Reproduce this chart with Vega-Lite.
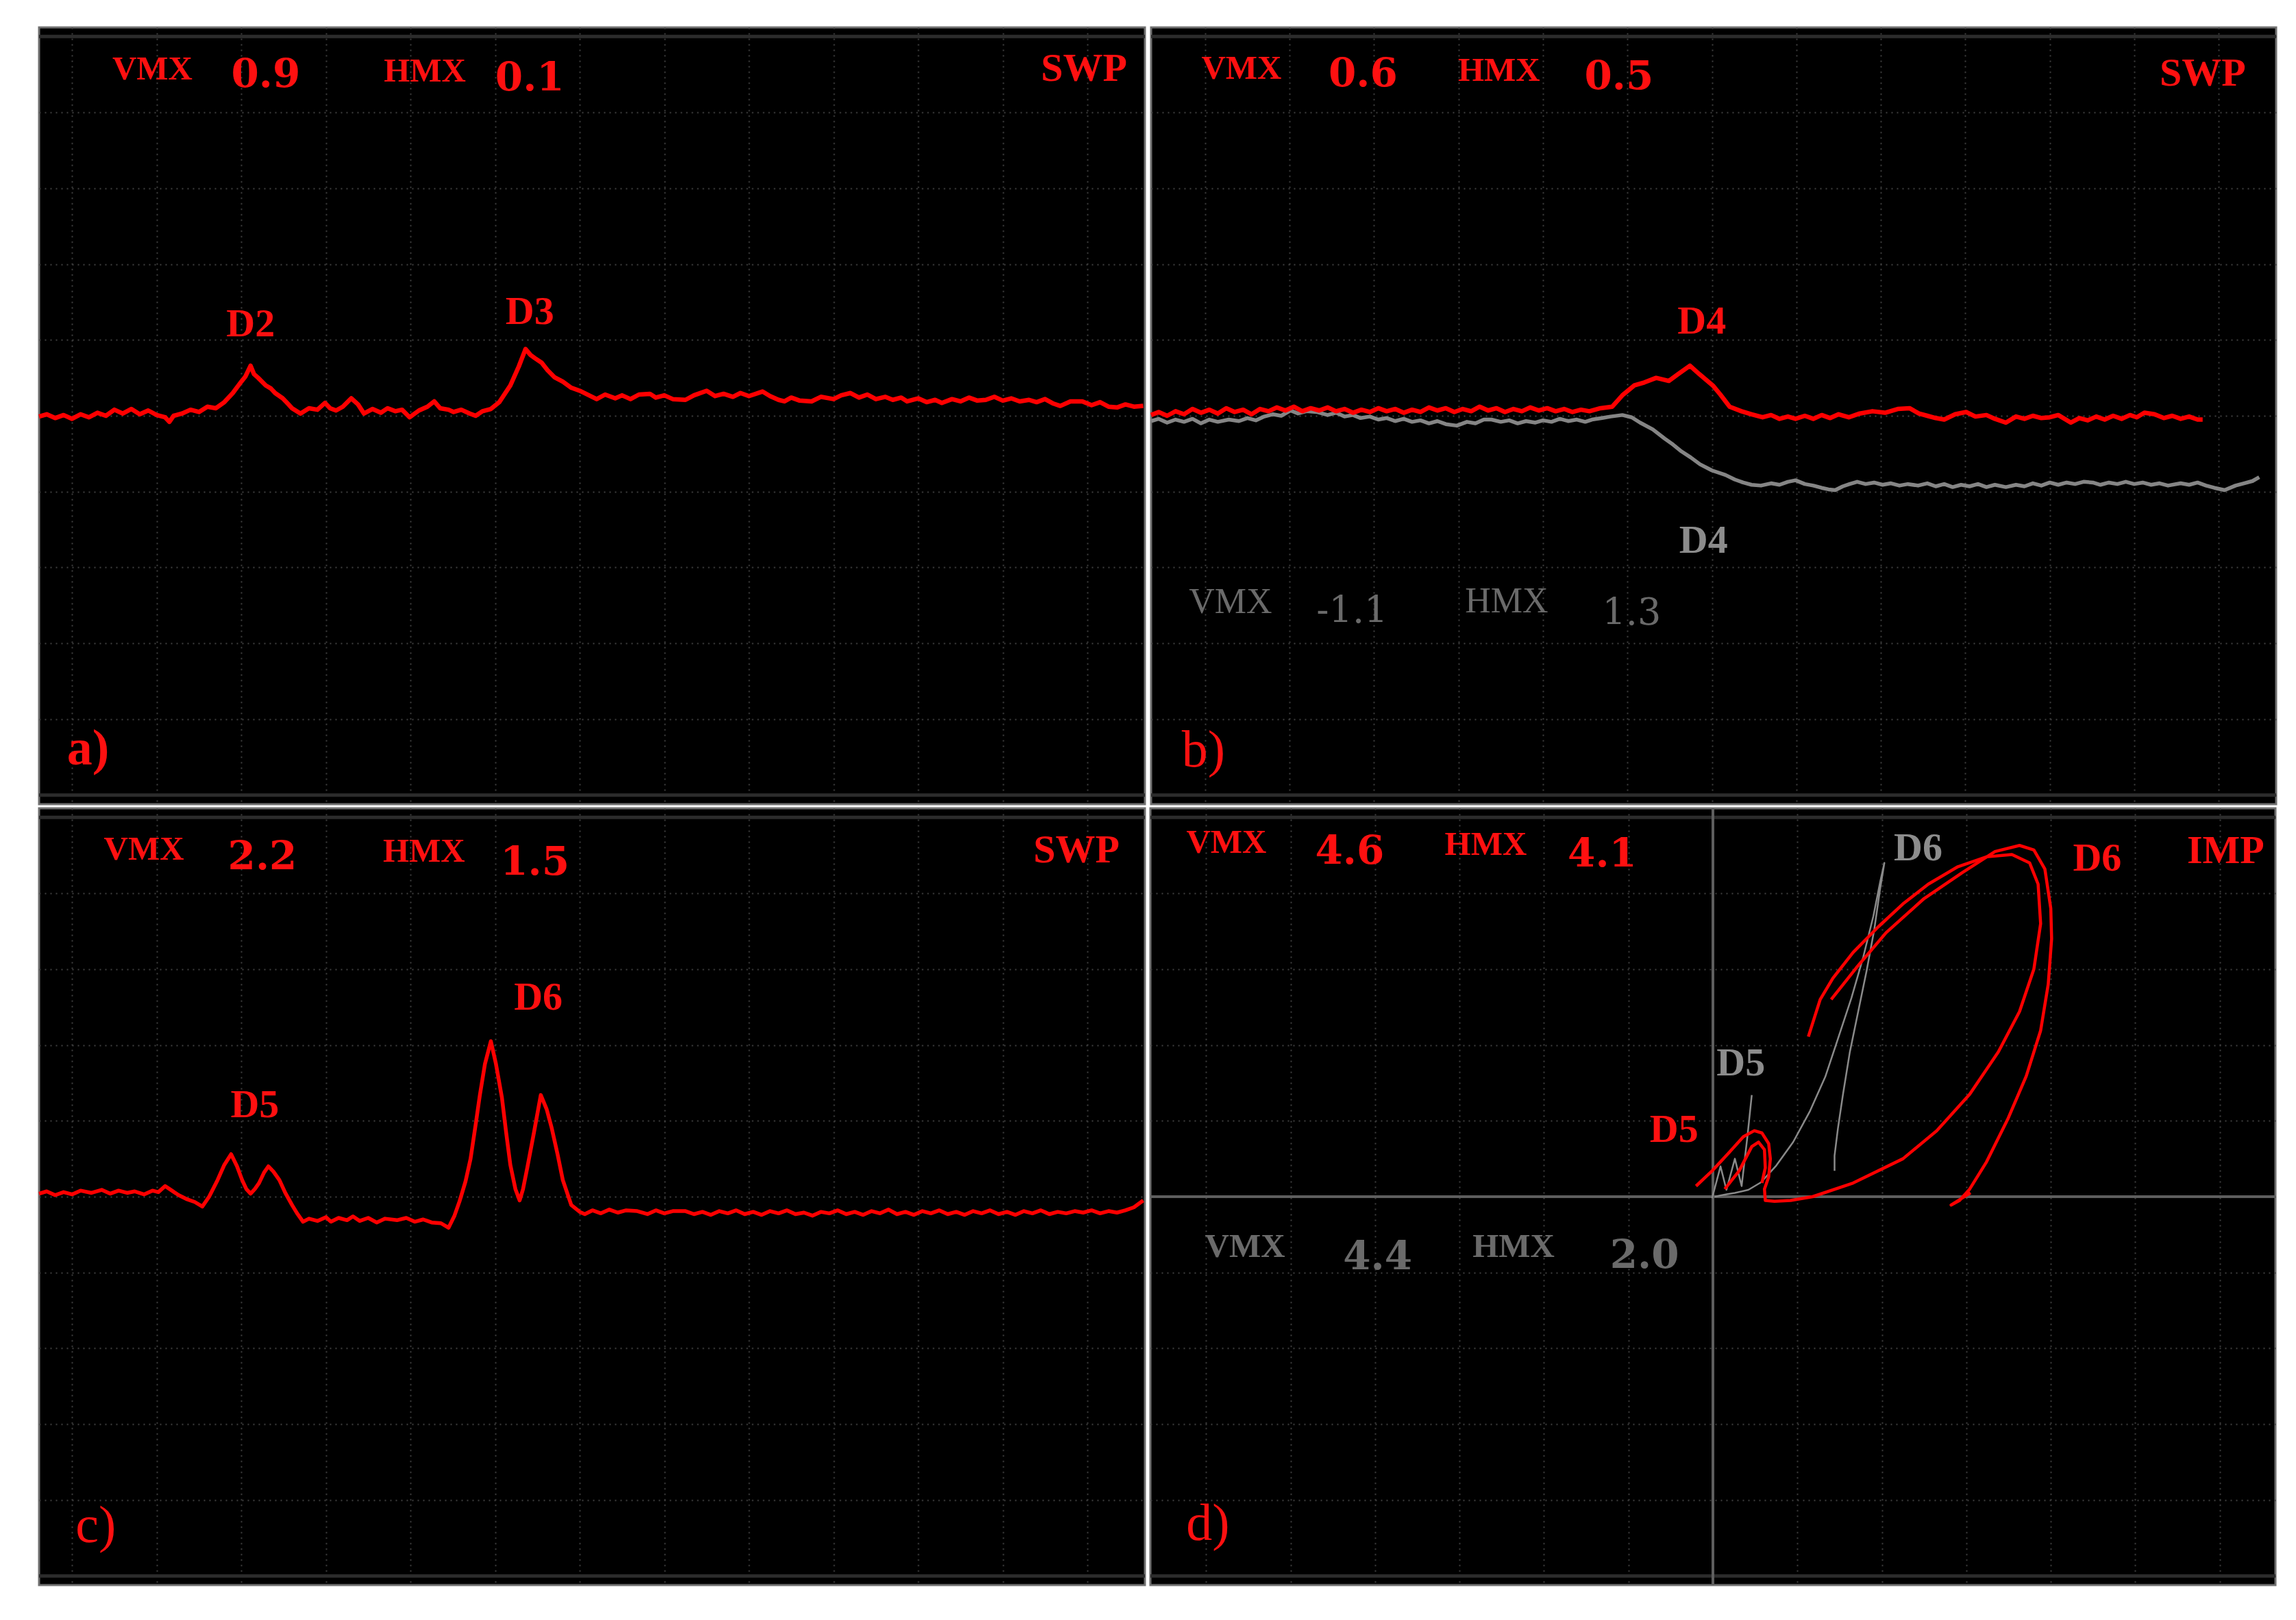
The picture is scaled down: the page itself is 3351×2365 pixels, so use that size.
{
"$schema":"https://vega.github.io/schema/vega-lite/v6.json",
"background":"#ffffff",
"padding":{"left":52,"top":38,"right":0,"bottom":0},
"config":{
 "view":{"fill":"#000000","stroke":"#707070","strokeWidth":3},
 "axis":{"grid":true,"labels":false,"ticks":false,"domain":false,"gridColor":"#404040","gridDash":[2,6],"gridWidth":2,"minExtent":0,"maxExtent":0,"titlePadding":0},
 "text":{"font":"Liberation Serif"}
},
"datasets":{
"labels":[
{"p":"a","k":"param","txt":"VMX","t":0.95,"v":9.57,"c":"red"},
{"p":"a","k":"value","txt":"0.9","t":2.29,"v":9.49,"c":"red"},
{"p":"a","k":"param","txt":"HMX","t":4.17,"v":9.54,"c":"red"},
{"p":"a","k":"value","txt":"0.1","t":5.41,"v":9.44,"c":"red"},
{"p":"a","k":"mode","txt":"SWP","t":11.96,"v":9.57,"c":"red"},
{"p":"a","k":"peak","txt":"D2","t":2.11,"v":6.20,"c":"red"},
{"p":"a","k":"peak","txt":"D3","t":5.41,"v":6.36,"c":"red"},
{"p":"a","k":"tag","txt":"a)","t":0.19,"v":0.60,"c":"red"},
{"p":"b","k":"param","txt":"VMX","t":0.43,"v":9.58,"c":"red"},
{"p":"b","k":"value","txt":"0.6","t":1.87,"v":9.50,"c":"red"},
{"p":"b","k":"param","txt":"HMX","t":3.48,"v":9.55,"c":"red"},
{"p":"b","k":"value","txt":"0.5","t":4.90,"v":9.46,"c":"red"},
{"p":"b","k":"mode","txt":"SWP","t":11.81,"v":9.51,"c":"red"},
{"p":"b","k":"peak","txt":"D4","t":5.88,"v":6.24,"c":"red"},
{"p":"b","k":"peak","txt":"D4","t":5.90,"v":3.35,"c":"gray"},
{"p":"b","k":"param2","txt":"VMX","t":0.30,"v":2.54,"c":"dim"},
{"p":"b","k":"value2","txt":"-1.1","t":1.74,"v":2.42,"c":"dim"},
{"p":"b","k":"param2","txt":"HMX","t":3.57,"v":2.55,"c":"dim"},
{"p":"b","k":"value2","txt":"1.3","t":5.05,"v":2.39,"c":"dim"},
{"p":"b","k":"tag","txt":"b)","t":-0.02,"v":0.58,"c":"red"},
{"p":"c","k":"param","txt":"VMX","t":0.85,"v":9.58,"c":"red"},
{"p":"c","k":"value","txt":"2.2","t":2.25,"v":9.47,"c":"red"},
{"p":"c","k":"param","txt":"HMX","t":4.16,"v":9.55,"c":"red"},
{"p":"c","k":"value","txt":"1.5","t":5.47,"v":9.40,"c":"red"},
{"p":"c","k":"mode","txt":"SWP","t":11.87,"v":9.56,"c":"red"},
{"p":"c","k":"peak","txt":"D5","t":2.16,"v":6.20,"c":"red"},
{"p":"c","k":"peak","txt":"D6","t":5.51,"v":7.62,"c":"red"},
{"p":"c","k":"tag","txt":"c)","t":0.28,"v":0.66,"c":"red"},
{"p":"d","k":"param","txt":"VMX","t":-5.76,"v":4.67,"c":"red"},
{"p":"d","k":"value","txt":"4.6","t":-4.30,"v":4.54,"c":"red"},
{"p":"d","k":"param","txt":"HMX","t":-2.69,"v":4.64,"c":"red"},
{"p":"d","k":"value","txt":"4.1","t":-1.31,"v":4.51,"c":"red"},
{"p":"d","k":"peak","txt":"D6","t":2.43,"v":4.59,"c":"gray"},
{"p":"d","k":"peak","txt":"D6","t":4.55,"v":4.45,"c":"red"},
{"p":"d","k":"mode","txt":"IMP","t":6.07,"v":4.55,"c":"red"},
{"p":"d","k":"peak","txt":"D5","t":0.33,"v":1.75,"c":"gray"},
{"p":"d","k":"peak","txt":"D5","t":-0.46,"v":0.88,"c":"red"},
{"p":"d","k":"param","txt":"VMX","t":-5.54,"v":-0.66,"c":"dim"},
{"p":"d","k":"value","txt":"4.4","t":-3.97,"v":-0.80,"c":"dim"},
{"p":"d","k":"param","txt":"HMX","t":-2.36,"v":-0.66,"c":"dim"},
{"p":"d","k":"value","txt":"2.0","t":-0.81,"v":-0.79,"c":"dim"},
{"p":"d","k":"tag","txt":"d)","t":-5.98,"v":-4.32,"c":"red"}
],
"traceA":[
{"t":-0.39,"v":4.99},{"t":-0.3,"v":5.02},{"t":-0.2,"v":4.97},{"t":-0.1,"v":5.01},{"t":0.0,"v":4.96},{"t":0.1,"v":5.02},{"t":0.2,"v":4.98},{"t":0.3,"v":5.04},{"t":0.4,"v":5.0},{"t":0.5,"v":5.08},{"t":0.6,"v":5.03},{"t":0.7,"v":5.09},{"t":0.8,"v":5.02},{"t":0.9,"v":5.07},{"t":1.0,"v":5.01},{"t":1.1,"v":4.98},{"t":1.15,"v":4.92},{"t":1.2,"v":5.0},{"t":1.3,"v":5.03},{"t":1.4,"v":5.08},{"t":1.5,"v":5.05},{"t":1.6,"v":5.12},{"t":1.7,"v":5.1},{"t":1.8,"v":5.18},{"t":1.9,"v":5.3},{"t":2.0,"v":5.45},{"t":2.05,"v":5.52},{"t":2.11,"v":5.66},{"t":2.15,"v":5.55},{"t":2.2,"v":5.5},{"t":2.29,"v":5.4},{"t":2.35,"v":5.36},{"t":2.4,"v":5.3},{"t":2.49,"v":5.23},{"t":2.55,"v":5.16},{"t":2.6,"v":5.1},{"t":2.7,"v":5.03},{"t":2.8,"v":5.1},{"t":2.9,"v":5.08},{"t":2.99,"v":5.17},{"t":3.05,"v":5.1},{"t":3.12,"v":5.07},{"t":3.2,"v":5.12},{"t":3.3,"v":5.23},{"t":3.38,"v":5.15},{"t":3.45,"v":5.03},{"t":3.55,"v":5.09},{"t":3.65,"v":5.04},{"t":3.73,"v":5.1},{"t":3.82,"v":5.06},{"t":3.9,"v":5.08},{"t":3.99,"v":4.98},{"t":4.1,"v":5.07},{"t":4.2,"v":5.12},{"t":4.28,"v":5.19},{"t":4.35,"v":5.1},{"t":4.45,"v":5.08},{"t":4.51,"v":5.05},{"t":4.6,"v":5.08},{"t":4.7,"v":5.03},{"t":4.77,"v":5.0},{"t":4.85,"v":5.06},{"t":4.95,"v":5.09},{"t":5.05,"v":5.18},{"t":5.18,"v":5.4},{"t":5.28,"v":5.65},{"t":5.36,"v":5.88},{"t":5.42,"v":5.8},{"t":5.47,"v":5.76},{"t":5.55,"v":5.7},{"t":5.62,"v":5.6},{"t":5.7,"v":5.51},{"t":5.8,"v":5.45},{"t":5.9,"v":5.37},{"t":6.0,"v":5.33},{"t":6.11,"v":5.27},{"t":6.2,"v":5.22},{"t":6.3,"v":5.28},{"t":6.42,"v":5.23},{"t":6.5,"v":5.27},{"t":6.6,"v":5.22},{"t":6.7,"v":5.28},{"t":6.83,"v":5.29},{"t":6.9,"v":5.24},{"t":7.0,"v":5.27},{"t":7.1,"v":5.22},{"t":7.25,"v":5.21},{"t":7.35,"v":5.27},{"t":7.5,"v":5.33},{"t":7.6,"v":5.26},{"t":7.7,"v":5.29},{"t":7.81,"v":5.25},{"t":7.9,"v":5.3},{"t":8.0,"v":5.26},{"t":8.16,"v":5.32},{"t":8.25,"v":5.26},{"t":8.35,"v":5.21},{"t":8.42,"v":5.19},{"t":8.5,"v":5.24},{"t":8.6,"v":5.2},{"t":8.74,"v":5.19},{"t":8.85,"v":5.25},{"t":9.0,"v":5.22},{"t":9.09,"v":5.27},{"t":9.2,"v":5.3},{"t":9.3,"v":5.24},{"t":9.4,"v":5.28},{"t":9.5,"v":5.22},{"t":9.61,"v":5.25},{"t":9.7,"v":5.21},{"t":9.8,"v":5.24},{"t":9.87,"v":5.19},{"t":10.0,"v":5.23},{"t":10.1,"v":5.18},{"t":10.2,"v":5.21},{"t":10.28,"v":5.17},{"t":10.4,"v":5.22},{"t":10.5,"v":5.19},{"t":10.6,"v":5.24},{"t":10.7,"v":5.2},{"t":10.8,"v":5.21},{"t":10.9,"v":5.25},{"t":11.0,"v":5.2},{"t":11.1,"v":5.23},{"t":11.2,"v":5.19},{"t":11.31,"v":5.21},{"t":11.4,"v":5.18},{"t":11.5,"v":5.22},{"t":11.6,"v":5.16},{"t":11.68,"v":5.13},{"t":11.8,"v":5.19},{"t":11.94,"v":5.19},{"t":12.05,"v":5.14},{"t":12.15,"v":5.18},{"t":12.25,"v":5.12},{"t":12.35,"v":5.11},{"t":12.45,"v":5.15},{"t":12.55,"v":5.12},{"t":12.66,"v":5.13}
],
"traceB":[
{"c":"red","t":-0.64,"v":5.01},{"c":"red","t":-0.55,"v":5.05},{"c":"red","t":-0.45,"v":5.0},{"c":"red","t":-0.35,"v":5.06},{"c":"red","t":-0.25,"v":5.02},{"c":"red","t":-0.15,"v":5.09},{"c":"red","t":-0.05,"v":5.04},{"c":"red","t":0.05,"v":5.08},{"c":"red","t":0.15,"v":5.03},{"c":"red","t":0.25,"v":5.1},{"c":"red","t":0.35,"v":5.05},{"c":"red","t":0.45,"v":5.08},{"c":"red","t":0.55,"v":5.02},{"c":"red","t":0.65,"v":5.09},{"c":"red","t":0.75,"v":5.06},{"c":"red","t":0.85,"v":5.11},{"c":"red","t":0.95,"v":5.07},{"c":"red","t":1.05,"v":5.12},{"c":"red","t":1.15,"v":5.06},{"c":"red","t":1.25,"v":5.1},{"c":"red","t":1.35,"v":5.07},{"c":"red","t":1.45,"v":5.11},{"c":"red","t":1.55,"v":5.06},{"c":"red","t":1.65,"v":5.09},{"c":"red","t":1.75,"v":5.04},{"c":"red","t":1.85,"v":5.08},{"c":"red","t":1.95,"v":5.05},{"c":"red","t":2.05,"v":5.1},{"c":"red","t":2.15,"v":5.06},{"c":"red","t":2.25,"v":5.09},{"c":"red","t":2.35,"v":5.04},{"c":"red","t":2.45,"v":5.08},{"c":"red","t":2.55,"v":5.05},{"c":"red","t":2.65,"v":5.11},{"c":"red","t":2.75,"v":5.07},{"c":"red","t":2.85,"v":5.1},{"c":"red","t":2.95,"v":5.05},{"c":"red","t":3.05,"v":5.09},{"c":"red","t":3.15,"v":5.06},{"c":"red","t":3.25,"v":5.12},{"c":"red","t":3.35,"v":5.07},{"c":"red","t":3.45,"v":5.1},{"c":"red","t":3.55,"v":5.05},{"c":"red","t":3.65,"v":5.09},{"c":"red","t":3.75,"v":5.06},{"c":"red","t":3.85,"v":5.11},{"c":"red","t":3.95,"v":5.07},{"c":"red","t":4.05,"v":5.1},{"c":"red","t":4.15,"v":5.06},{"c":"red","t":4.25,"v":5.09},{"c":"red","t":4.35,"v":5.05},{"c":"red","t":4.45,"v":5.08},{"c":"red","t":4.55,"v":5.06},{"c":"red","t":4.68,"v":5.1},{"c":"red","t":4.82,"v":5.12},{"c":"red","t":4.94,"v":5.27},{"c":"red","t":5.08,"v":5.4},{"c":"red","t":5.2,"v":5.44},{"c":"red","t":5.34,"v":5.5},{"c":"red","t":5.49,"v":5.46},{"c":"red","t":5.6,"v":5.55},{"c":"red","t":5.74,"v":5.66},{"c":"red","t":5.85,"v":5.55},{"c":"red","t":6.01,"v":5.4},{"c":"red","t":6.1,"v":5.28},{"c":"red","t":6.21,"v":5.12},{"c":"red","t":6.35,"v":5.06},{"c":"red","t":6.47,"v":5.02},{"c":"red","t":6.6,"v":4.98},{"c":"red","t":6.7,"v":5.01},{"c":"red","t":6.8,"v":4.96},{"c":"red","t":6.9,"v":4.99},{"c":"red","t":6.99,"v":4.96},{"c":"red","t":7.1,"v":5.0},{"c":"red","t":7.2,"v":4.96},{"c":"red","t":7.3,"v":5.01},{"c":"red","t":7.4,"v":4.97},{"c":"red","t":7.5,"v":5.02},{"c":"red","t":7.62,"v":4.98},{"c":"red","t":7.75,"v":5.03},{"c":"red","t":7.9,"v":5.06},{"c":"red","t":8.05,"v":5.04},{"c":"red","t":8.2,"v":5.09},{"c":"red","t":8.34,"v":5.1},{"c":"red","t":8.45,"v":5.03},{"c":"red","t":8.55,"v":5.0},{"c":"red","t":8.65,"v":4.97},{"c":"red","t":8.75,"v":4.95},{"c":"red","t":8.88,"v":5.02},{"c":"red","t":9.01,"v":5.05},{"c":"red","t":9.12,"v":4.99},{"c":"red","t":9.25,"v":5.01},{"c":"red","t":9.35,"v":4.96},{"c":"red","t":9.48,"v":4.91},{"c":"red","t":9.6,"v":4.99},{"c":"red","t":9.7,"v":4.96},{"c":"red","t":9.8,"v":5.0},{"c":"red","t":9.9,"v":4.97},{"c":"red","t":10.0,"v":4.98},{"c":"red","t":10.1,"v":5.01},{"c":"red","t":10.25,"v":4.91},{"c":"red","t":10.35,"v":4.97},{"c":"red","t":10.45,"v":4.94},{"c":"red","t":10.55,"v":4.99},{"c":"red","t":10.65,"v":4.95},{"c":"red","t":10.75,"v":5.0},{"c":"red","t":10.85,"v":4.96},{"c":"red","t":10.95,"v":5.01},{"c":"red","t":11.03,"v":4.98},{"c":"red","t":11.12,"v":5.04},{"c":"red","t":11.24,"v":5.02},{"c":"red","t":11.35,"v":4.97},{"c":"red","t":11.45,"v":5.0},{"c":"red","t":11.55,"v":4.96},{"c":"red","t":11.65,"v":4.99},{"c":"red","t":11.75,"v":4.95},{"c":"red","t":11.81,"v":4.95},
{"c":"gray","t":-0.64,"v":4.93},{"c":"gray","t":-0.55,"v":4.96},{"c":"gray","t":-0.45,"v":4.91},{"c":"gray","t":-0.35,"v":4.95},{"c":"gray","t":-0.25,"v":4.92},{"c":"gray","t":-0.15,"v":4.96},{"c":"gray","t":-0.05,"v":4.9},{"c":"gray","t":0.05,"v":4.95},{"c":"gray","t":0.15,"v":4.92},{"c":"gray","t":0.28,"v":4.95},{"c":"gray","t":0.4,"v":4.93},{"c":"gray","t":0.5,"v":4.97},{"c":"gray","t":0.6,"v":4.94},{"c":"gray","t":0.7,"v":4.99},{"c":"gray","t":0.8,"v":5.02},{"c":"gray","t":0.9,"v":5.0},{"c":"gray","t":1.01,"v":5.07},{"c":"gray","t":1.1,"v":5.03},{"c":"gray","t":1.2,"v":5.06},{"c":"gray","t":1.32,"v":5.05},{"c":"gray","t":1.45,"v":5.01},{"c":"gray","t":1.55,"v":5.04},{"c":"gray","t":1.65,"v":4.99},{"c":"gray","t":1.75,"v":5.01},{"c":"gray","t":1.84,"v":4.97},{"c":"gray","t":1.95,"v":4.99},{"c":"gray","t":2.05,"v":4.95},{"c":"gray","t":2.15,"v":4.97},{"c":"gray","t":2.25,"v":4.93},{"c":"gray","t":2.35,"v":4.96},{"c":"gray","t":2.45,"v":4.92},{"c":"gray","t":2.55,"v":4.94},{"c":"gray","t":2.65,"v":4.9},{"c":"gray","t":2.75,"v":4.93},{"c":"gray","t":2.85,"v":4.89},{"c":"gray","t":2.98,"v":4.87},{"c":"gray","t":3.1,"v":4.92},{"c":"gray","t":3.2,"v":4.9},{"c":"gray","t":3.3,"v":4.95},{"c":"gray","t":3.39,"v":4.95},{"c":"gray","t":3.5,"v":4.92},{"c":"gray","t":3.6,"v":4.94},{"c":"gray","t":3.7,"v":4.9},{"c":"gray","t":3.8,"v":4.93},{"c":"gray","t":3.91,"v":4.91},{"c":"gray","t":4.0,"v":4.94},{"c":"gray","t":4.1,"v":4.92},{"c":"gray","t":4.2,"v":4.96},{"c":"gray","t":4.3,"v":4.93},{"c":"gray","t":4.4,"v":4.95},{"c":"gray","t":4.5,"v":4.92},{"c":"gray","t":4.58,"v":4.95},{"c":"gray","t":4.7,"v":4.97},{"c":"gray","t":4.8,"v":4.99},{"c":"gray","t":4.94,"v":5.01},{"c":"gray","t":5.05,"v":4.98},{"c":"gray","t":5.15,"v":4.91},{"c":"gray","t":5.3,"v":4.82},{"c":"gray","t":5.44,"v":4.7},{"c":"gray","t":5.54,"v":4.62},{"c":"gray","t":5.64,"v":4.53},{"c":"gray","t":5.75,"v":4.45},{"c":"gray","t":5.86,"v":4.36},{"c":"gray","t":6.0,"v":4.28},{"c":"gray","t":6.16,"v":4.22},{"c":"gray","t":6.27,"v":4.16},{"c":"gray","t":6.37,"v":4.12},{"c":"gray","t":6.47,"v":4.09},{"c":"gray","t":6.58,"v":4.08},{"c":"gray","t":6.7,"v":4.11},{"c":"gray","t":6.8,"v":4.09},{"c":"gray","t":6.9,"v":4.13},{"c":"gray","t":6.99,"v":4.15},{"c":"gray","t":7.1,"v":4.1},{"c":"gray","t":7.2,"v":4.08},{"c":"gray","t":7.3,"v":4.05},{"c":"gray","t":7.38,"v":4.03},{"c":"gray","t":7.46,"v":4.02},{"c":"gray","t":7.55,"v":4.07},{"c":"gray","t":7.63,"v":4.1},{"c":"gray","t":7.72,"v":4.13},{"c":"gray","t":7.82,"v":4.1},{"c":"gray","t":7.92,"v":4.12},{"c":"gray","t":8.02,"v":4.09},{"c":"gray","t":8.12,"v":4.11},{"c":"gray","t":8.22,"v":4.08},{"c":"gray","t":8.32,"v":4.1},{"c":"gray","t":8.44,"v":4.08},{"c":"gray","t":8.55,"v":4.11},{"c":"gray","t":8.65,"v":4.07},{"c":"gray","t":8.75,"v":4.1},{"c":"gray","t":8.85,"v":4.06},{"c":"gray","t":8.95,"v":4.09},{"c":"gray","t":9.05,"v":4.07},{"c":"gray","t":9.15,"v":4.1},{"c":"gray","t":9.25,"v":4.06},{"c":"gray","t":9.35,"v":4.09},{"c":"gray","t":9.48,"v":4.06},{"c":"gray","t":9.6,"v":4.09},{"c":"gray","t":9.7,"v":4.07},{"c":"gray","t":9.8,"v":4.11},{"c":"gray","t":9.9,"v":4.08},{"c":"gray","t":10.0,"v":4.12},{"c":"gray","t":10.1,"v":4.09},{"c":"gray","t":10.2,"v":4.12},{"c":"gray","t":10.3,"v":4.1},{"c":"gray","t":10.4,"v":4.13},{"c":"gray","t":10.51,"v":4.12},{"c":"gray","t":10.6,"v":4.09},{"c":"gray","t":10.7,"v":4.12},{"c":"gray","t":10.8,"v":4.1},{"c":"gray","t":10.9,"v":4.13},{"c":"gray","t":11.0,"v":4.1},{"c":"gray","t":11.1,"v":4.12},{"c":"gray","t":11.2,"v":4.09},{"c":"gray","t":11.3,"v":4.11},{"c":"gray","t":11.4,"v":4.08},{"c":"gray","t":11.55,"v":4.11},{"c":"gray","t":11.65,"v":4.09},{"c":"gray","t":11.75,"v":4.12},{"c":"gray","t":11.85,"v":4.08},{"c":"gray","t":11.95,"v":4.05},{"c":"gray","t":12.07,"v":4.02},{"c":"gray","t":12.2,"v":4.08},{"c":"gray","t":12.3,"v":4.11},{"c":"gray","t":12.4,"v":4.14},{"c":"gray","t":12.48,"v":4.19}
],
"traceC":[
{"t":-0.39,"v":5.04},{"t":-0.3,"v":5.07},{"t":-0.2,"v":5.02},{"t":-0.1,"v":5.06},{"t":0.0,"v":5.03},{"t":0.1,"v":5.08},{"t":0.23,"v":5.05},{"t":0.35,"v":5.09},{"t":0.45,"v":5.04},{"t":0.55,"v":5.08},{"t":0.65,"v":5.05},{"t":0.74,"v":5.07},{"t":0.85,"v":5.03},{"t":0.95,"v":5.08},{"t":1.02,"v":5.06},{"t":1.1,"v":5.14},{"t":1.18,"v":5.08},{"t":1.26,"v":5.02},{"t":1.35,"v":4.97},{"t":1.45,"v":4.93},{"t":1.54,"v":4.87},{"t":1.62,"v":5.0},{"t":1.72,"v":5.22},{"t":1.8,"v":5.42},{"t":1.88,"v":5.56},{"t":1.95,"v":5.4},{"t":2.01,"v":5.22},{"t":2.06,"v":5.1},{"t":2.11,"v":5.04},{"t":2.16,"v":5.1},{"t":2.21,"v":5.18},{"t":2.27,"v":5.32},{"t":2.32,"v":5.4},{"t":2.38,"v":5.33},{"t":2.45,"v":5.22},{"t":2.52,"v":5.05},{"t":2.6,"v":4.89},{"t":2.66,"v":4.78},{"t":2.73,"v":4.67},{"t":2.8,"v":4.71},{"t":2.9,"v":4.68},{"t":3.0,"v":4.73},{"t":3.06,"v":4.67},{"t":3.15,"v":4.72},{"t":3.25,"v":4.69},{"t":3.32,"v":4.74},{"t":3.4,"v":4.68},{"t":3.5,"v":4.72},{"t":3.6,"v":4.66},{"t":3.7,"v":4.71},{"t":3.84,"v":4.69},{"t":3.95,"v":4.72},{"t":4.05,"v":4.67},{"t":4.15,"v":4.7},{"t":4.25,"v":4.66},{"t":4.36,"v":4.65},{"t":4.45,"v":4.59},{"t":4.52,"v":4.75},{"t":4.58,"v":4.94},{"t":4.65,"v":5.2},{"t":4.71,"v":5.5},{"t":4.77,"v":5.95},{"t":4.82,"v":6.34},{"t":4.88,"v":6.75},{"t":4.95,"v":7.05},{"t":5.01,"v":6.75},{"t":5.08,"v":6.31},{"t":5.13,"v":5.85},{"t":5.18,"v":5.42},{"t":5.24,"v":5.1},{"t":5.29,"v":4.95},{"t":5.33,"v":5.1},{"t":5.38,"v":5.38},{"t":5.46,"v":5.85},{"t":5.54,"v":6.34},{"t":5.61,"v":6.15},{"t":5.67,"v":5.9},{"t":5.74,"v":5.55},{"t":5.8,"v":5.22},{"t":5.9,"v":4.89},{"t":6.0,"v":4.8},{"t":6.06,"v":4.77},{"t":6.15,"v":4.82},{"t":6.25,"v":4.78},{"t":6.35,"v":4.83},{"t":6.45,"v":4.79},{"t":6.55,"v":4.82},{"t":6.68,"v":4.81},{"t":6.8,"v":4.77},{"t":6.9,"v":4.82},{"t":7.0,"v":4.78},{"t":7.1,"v":4.81},{"t":7.25,"v":4.81},{"t":7.35,"v":4.77},{"t":7.45,"v":4.8},{"t":7.55,"v":4.76},{"t":7.65,"v":4.81},{"t":7.75,"v":4.78},{"t":7.85,"v":4.82},{"t":7.95,"v":4.77},{"t":8.05,"v":4.8},{"t":8.15,"v":4.76},{"t":8.25,"v":4.81},{"t":8.35,"v":4.78},{"t":8.45,"v":4.82},{"t":8.55,"v":4.77},{"t":8.65,"v":4.79},{"t":8.75,"v":4.75},{"t":8.85,"v":4.8},{"t":8.95,"v":4.78},{"t":9.05,"v":4.82},{"t":9.15,"v":4.77},{"t":9.25,"v":4.8},{"t":9.35,"v":4.76},{"t":9.45,"v":4.81},{"t":9.55,"v":4.78},{"t":9.65,"v":4.83},{"t":9.75,"v":4.77},{"t":9.85,"v":4.8},{"t":9.95,"v":4.76},{"t":10.05,"v":4.81},{"t":10.15,"v":4.78},{"t":10.25,"v":4.82},{"t":10.35,"v":4.77},{"t":10.45,"v":4.8},{"t":10.55,"v":4.76},{"t":10.65,"v":4.81},{"t":10.75,"v":4.78},{"t":10.85,"v":4.82},{"t":10.95,"v":4.77},{"t":11.05,"v":4.8},{"t":11.15,"v":4.76},{"t":11.25,"v":4.81},{"t":11.35,"v":4.78},{"t":11.45,"v":4.82},{"t":11.55,"v":4.77},{"t":11.65,"v":4.8},{"t":11.75,"v":4.78},{"t":11.85,"v":4.81},{"t":11.95,"v":4.79},{"t":12.05,"v":4.82},{"t":12.15,"v":4.78},{"t":12.25,"v":4.81},{"t":12.35,"v":4.79},{"t":12.45,"v":4.82},{"t":12.55,"v":4.86},{"t":12.66,"v":4.95}
],
"traceD":[
{"p":"r1","i":0,"t":-0.2,"v":0.14,"c":"red"},{"p":"r1","i":1,"t":-0.01,"v":0.34,"c":"red"},{"p":"r1","i":2,"t":0.19,"v":0.58,"c":"red"},{"p":"r1","i":3,"t":0.36,"v":0.79,"c":"red"},{"p":"r1","i":4,"t":0.49,"v":0.87,"c":"red"},{"p":"r1","i":5,"t":0.58,"v":0.84,"c":"red"},{"p":"r1","i":6,"t":0.66,"v":0.7,"c":"red"},{"p":"r1","i":7,"t":0.68,"v":0.5,"c":"red"},{"p":"r1","i":8,"t":0.66,"v":0.26,"c":"red"},{"p":"r1","i":9,"t":0.61,"v":0.1,"c":"red"},{"p":"r1","i":10,"t":0.62,"v":-0.05,"c":"red"},{"p":"r1","i":11,"t":0.73,"v":-0.06,"c":"red"},{"p":"r1","i":12,"t":0.92,"v":-0.05,"c":"red"},{"p":"r1","i":13,"t":1.18,"v":0.0,"c":"red"},{"p":"r1","i":14,"t":1.66,"v":0.18,"c":"red"},{"p":"r1","i":15,"t":2.25,"v":0.5,"c":"red"},{"p":"r1","i":16,"t":2.65,"v":0.87,"c":"red"},{"p":"r1","i":17,"t":3.04,"v":1.35,"c":"red"},{"p":"r1","i":18,"t":3.38,"v":1.91,"c":"red"},{"p":"r1","i":19,"t":3.63,"v":2.44,"c":"red"},{"p":"r1","i":20,"t":3.8,"v":3.0,"c":"red"},{"p":"r1","i":21,"t":3.88,"v":3.6,"c":"red"},{"p":"r1","i":22,"t":3.85,"v":4.12,"c":"red"},{"p":"r1","i":23,"t":3.75,"v":4.4,"c":"red"},{"p":"r1","i":24,"t":3.54,"v":4.51,"c":"red"},{"p":"r1","i":25,"t":3.24,"v":4.48,"c":"red"},{"p":"r1","i":26,"t":2.9,"v":4.35,"c":"red"},{"p":"r1","i":27,"t":2.55,"v":4.12,"c":"red"},{"p":"r1","i":28,"t":2.25,"v":3.86,"c":"red"},{"p":"r1","i":29,"t":1.96,"v":3.56,"c":"red"},{"p":"r1","i":30,"t":1.66,"v":3.22,"c":"red"},{"p":"r1","i":31,"t":1.42,"v":2.88,"c":"red"},{"p":"r1","i":32,"t":1.27,"v":2.6,"c":"red"},{"p":"r1","i":33,"t":1.13,"v":2.11,"c":"red"},
{"p":"r2","i":0,"t":1.4,"v":2.6,"c":"red"},{"p":"r2","i":1,"t":1.7,"v":3.02,"c":"red"},{"p":"r2","i":2,"t":2.05,"v":3.48,"c":"red"},{"p":"r2","i":3,"t":2.5,"v":3.93,"c":"red"},{"p":"r2","i":4,"t":2.95,"v":4.27,"c":"red"},{"p":"r2","i":5,"t":3.34,"v":4.55,"c":"red"},{"p":"r2","i":6,"t":3.63,"v":4.63,"c":"red"},{"p":"r2","i":7,"t":3.8,"v":4.57,"c":"red"},{"p":"r2","i":8,"t":3.93,"v":4.32,"c":"red"},{"p":"r2","i":9,"t":4.0,"v":3.8,"c":"red"},{"p":"r2","i":10,"t":4.01,"v":3.4,"c":"red"},{"p":"r2","i":11,"t":3.97,"v":2.8,"c":"red"},{"p":"r2","i":12,"t":3.88,"v":2.19,"c":"red"},{"p":"r2","i":13,"t":3.71,"v":1.59,"c":"red"},{"p":"r2","i":14,"t":3.49,"v":1.02,"c":"red"},{"p":"r2","i":15,"t":3.24,"v":0.46,"c":"red"},{"p":"r2","i":16,"t":3.04,"v":0.1,"c":"red"},{"p":"r2","i":17,"t":2.92,"v":-0.05,"c":"red"},{"p":"r2","i":18,"t":2.82,"v":-0.11,"c":"red"},{"p":"r2","i":19,"t":3.05,"v":0.05,"c":"red"},
{"p":"r3","i":0,"t":0.14,"v":0.1,"c":"red"},{"p":"r3","i":1,"t":0.31,"v":0.34,"c":"red"},{"p":"r3","i":2,"t":0.46,"v":0.66,"c":"red"},{"p":"r3","i":3,"t":0.54,"v":0.72,"c":"red"},{"p":"r3","i":4,"t":0.61,"v":0.62,"c":"red"},{"p":"r3","i":5,"t":0.62,"v":0.38,"c":"red"},{"p":"r3","i":6,"t":0.58,"v":0.18,"c":"red"},
{"p":"g1","i":0,"t":0.02,"v":0.0,"c":"gray"},{"p":"g1","i":1,"t":0.15,"v":0.03,"c":"gray"},{"p":"g1","i":2,"t":0.26,"v":0.05,"c":"gray"},{"p":"g1","i":3,"t":0.42,"v":0.09,"c":"gray"},{"p":"g1","i":4,"t":0.57,"v":0.19,"c":"gray"},{"p":"g1","i":5,"t":0.75,"v":0.41,"c":"gray"},{"p":"g1","i":6,"t":0.95,"v":0.72,"c":"gray"},{"p":"g1","i":7,"t":1.15,"v":1.13,"c":"gray"},{"p":"g1","i":8,"t":1.33,"v":1.58,"c":"gray"},{"p":"g1","i":9,"t":1.48,"v":2.08,"c":"gray"},{"p":"g1","i":10,"t":1.64,"v":2.62,"c":"gray"},{"p":"g1","i":11,"t":1.78,"v":3.16,"c":"gray"},{"p":"g1","i":12,"t":1.9,"v":3.7,"c":"gray"},{"p":"g1","i":13,"t":1.98,"v":4.15,"c":"gray"},{"p":"g1","i":14,"t":2.03,"v":4.4,"c":"gray"},{"p":"g1","i":15,"t":1.98,"v":4.06,"c":"gray"},{"p":"g1","i":16,"t":1.91,"v":3.52,"c":"gray"},{"p":"g1","i":17,"t":1.82,"v":2.98,"c":"gray"},{"p":"g1","i":18,"t":1.72,"v":2.44,"c":"gray"},{"p":"g1","i":19,"t":1.62,"v":1.9,"c":"gray"},{"p":"g1","i":20,"t":1.54,"v":1.35,"c":"gray"},{"p":"g1","i":21,"t":1.48,"v":0.9,"c":"gray"},{"p":"g1","i":22,"t":1.44,"v":0.54,"c":"gray"},{"p":"g1","i":23,"t":1.44,"v":0.34,"c":"gray"},
{"p":"g2","i":0,"t":-0.01,"v":-0.02,"c":"gray"},{"p":"g2","i":1,"t":0.09,"v":0.4,"c":"gray"},{"p":"g2","i":2,"t":0.16,"v":0.09,"c":"gray"},{"p":"g2","i":3,"t":0.26,"v":0.5,"c":"gray"},{"p":"g2","i":4,"t":0.34,"v":0.14,"c":"gray"},{"p":"g2","i":5,"t":0.41,"v":0.81,"c":"gray"},{"p":"g2","i":6,"t":0.46,"v":1.34,"c":"gray"}
]
},
"spacing":0,
"vconcat":[
{"spacing":0,"hconcat":[
{"width":1614,"height":1134,"layer":[
 {"data":{"values":[{"v":0},{"v":10}]},"mark":{"type":"rule","color":"#2c2c2c","strokeWidth":5},
  "encoding":{"y":{"field":"v","type":"quantitative","title":null,"scale":{"domain":[-0.12,10.12],"nice":false,"zero":false},"axis":{"values":[0,1,2,3,4,5,6,7,8,9,10]}}}},
 {"data":{"name":"traceA"},"mark":{"type":"line","color":"#ff0000","strokeWidth":6.5,"strokeJoin":"round"},
  "encoding":{"x":{"field":"t","type":"quantitative","title":null,"scale":{"domain":[-0.39,12.68],"nice":false,"zero":false},"axis":{"values":[0,1,2,3,4,5,6,7,8,9,10,11,12]}},"y":{"field":"v","type":"quantitative","title":null}}},
 {"data":{"name":"labels"},"transform":[{"filter":"datum.p=='a' && datum.k=='param'"}],"mark":{"type":"text","font":"Liberation Serif","fontWeight":"bold","fontSize":49,"align":"center","baseline":"middle"},
  "encoding":{"x":{"field":"t","type":"quantitative","title":null},"y":{"field":"v","type":"quantitative","title":null},"text":{"field":"txt"},"color":{"field":"c","type":"nominal","legend":null,"scale":{"domain":["red","gray","dim"],"range":["#ff1010","#8c8c8c","#6a6a6a"]}}}},
 {"data":{"name":"labels"},"transform":[{"filter":"datum.p=='a' && datum.k=='value'"}],"mark":{"type":"text","font":"DejaVu Serif","fontWeight":"bold","fontSize":58,"align":"center","baseline":"middle"},
  "encoding":{"x":{"field":"t","type":"quantitative","title":null},"y":{"field":"v","type":"quantitative","title":null},"text":{"field":"txt"},"color":{"field":"c","type":"nominal","legend":null}}},
 {"data":{"name":"labels"},"transform":[{"filter":"datum.p=='a' && (datum.k=='peak' || datum.k=='mode')"}],"mark":{"type":"text","font":"Liberation Serif","fontWeight":"bold","fontSize":58,"align":"center","baseline":"middle"},
  "encoding":{"x":{"field":"t","type":"quantitative","title":null},"y":{"field":"v","type":"quantitative","title":null},"text":{"field":"txt"},"color":{"field":"c","type":"nominal","legend":null}}},
 {"data":{"name":"labels"},"transform":[{"filter":"datum.p=='a' && datum.k=='tag'"}],"mark":{"type":"text","font":"Liberation Serif","fontWeight":"bold","fontSize":74,"align":"center","baseline":"middle"},
  "encoding":{"x":{"field":"t","type":"quantitative","title":null},"y":{"field":"v","type":"quantitative","title":null},"text":{"field":"txt"},"color":{"field":"c","type":"nominal","legend":null}}}
]},
{"width":1642,"height":1134,"layer":[
 {"data":{"values":[{"v":0},{"v":10}]},"mark":{"type":"rule","color":"#2c2c2c","strokeWidth":5},
  "encoding":{"y":{"field":"v","type":"quantitative","title":null,"scale":{"domain":[-0.12,10.12],"nice":false,"zero":false},"axis":{"values":[0,1,2,3,4,5,6,7,8,9,10]}}}},
 {"data":{"name":"traceB"},"transform":[{"filter":"datum.c=='gray'"}],"mark":{"type":"line","color":"#858585","strokeWidth":5.5,"strokeJoin":"round"},
  "encoding":{"x":{"field":"t","type":"quantitative","title":null,"scale":{"domain":[-0.64,12.68],"nice":false,"zero":false},"axis":{"values":[0,1,2,3,4,5,6,7,8,9,10,11,12]}},"y":{"field":"v","type":"quantitative","title":null}}},
 {"data":{"name":"traceB"},"transform":[{"filter":"datum.c=='red'"}],"mark":{"type":"line","color":"#ff0000","strokeWidth":6.5,"strokeJoin":"round"},
  "encoding":{"x":{"field":"t","type":"quantitative","title":null},"y":{"field":"v","type":"quantitative","title":null}}},
 {"data":{"name":"labels"},"transform":[{"filter":"datum.p=='b' && datum.k=='param'"}],"mark":{"type":"text","font":"Liberation Serif","fontWeight":"bold","fontSize":49,"align":"center","baseline":"middle"},
  "encoding":{"x":{"field":"t","type":"quantitative","title":null},"y":{"field":"v","type":"quantitative","title":null},"text":{"field":"txt"},"color":{"field":"c","type":"nominal","legend":null}}},
 {"data":{"name":"labels"},"transform":[{"filter":"datum.p=='b' && datum.k=='value'"}],"mark":{"type":"text","font":"DejaVu Serif","fontWeight":"bold","fontSize":58,"align":"center","baseline":"middle"},
  "encoding":{"x":{"field":"t","type":"quantitative","title":null},"y":{"field":"v","type":"quantitative","title":null},"text":{"field":"txt"},"color":{"field":"c","type":"nominal","legend":null}}},
 {"data":{"name":"labels"},"transform":[{"filter":"datum.p=='b' && (datum.k=='peak' || datum.k=='mode')"}],"mark":{"type":"text","font":"Liberation Serif","fontWeight":"bold","fontSize":58,"align":"center","baseline":"middle"},
  "encoding":{"x":{"field":"t","type":"quantitative","title":null},"y":{"field":"v","type":"quantitative","title":null},"text":{"field":"txt"},"color":{"field":"c","type":"nominal","legend":null}}},
 {"data":{"name":"labels"},"transform":[{"filter":"datum.p=='b' && datum.k=='param2'"}],"mark":{"type":"text","font":"Liberation Serif","fontWeight":"normal","fontSize":52,"align":"center","baseline":"middle"},
  "encoding":{"x":{"field":"t","type":"quantitative","title":null},"y":{"field":"v","type":"quantitative","title":null},"text":{"field":"txt"},"color":{"field":"c","type":"nominal","legend":null}}},
 {"data":{"name":"labels"},"transform":[{"filter":"datum.p=='b' && datum.k=='value2'"}],"mark":{"type":"text","font":"DejaVu Serif","fontWeight":"normal","fontSize":54,"align":"center","baseline":"middle"},
  "encoding":{"x":{"field":"t","type":"quantitative","title":null},"y":{"field":"v","type":"quantitative","title":null},"text":{"field":"txt"},"color":{"field":"c","type":"nominal","legend":null}}},
 {"data":{"name":"labels"},"transform":[{"filter":"datum.p=='b' && datum.k=='tag'"}],"mark":{"type":"text","font":"Liberation Serif","fontWeight":"normal","fontSize":76,"align":"center","baseline":"middle"},
  "encoding":{"x":{"field":"t","type":"quantitative","title":null},"y":{"field":"v","type":"quantitative","title":null},"text":{"field":"txt"},"color":{"field":"c","type":"nominal","legend":null}}}
]}
]},
{"spacing":0,"hconcat":[
{"width":1614,"height":1134,"layer":[
 {"data":{"values":[{"v":0},{"v":10}]},"mark":{"type":"rule","color":"#2c2c2c","strokeWidth":5},
  "encoding":{"y":{"field":"v","type":"quantitative","title":null,"scale":{"domain":[-0.12,10.12],"nice":false,"zero":false},"axis":{"values":[0,1,2,3,4,5,6,7,8,9,10]}}}},
 {"data":{"name":"traceC"},"mark":{"type":"line","color":"#ff0000","strokeWidth":5.5,"strokeJoin":"round"},
  "encoding":{"x":{"field":"t","type":"quantitative","title":null,"scale":{"domain":[-0.39,12.68],"nice":false,"zero":false},"axis":{"values":[0,1,2,3,4,5,6,7,8,9,10,11,12]}},"y":{"field":"v","type":"quantitative","title":null}}},
 {"data":{"name":"labels"},"transform":[{"filter":"datum.p=='c' && datum.k=='param'"}],"mark":{"type":"text","font":"Liberation Serif","fontWeight":"bold","fontSize":49,"align":"center","baseline":"middle"},
  "encoding":{"x":{"field":"t","type":"quantitative","title":null},"y":{"field":"v","type":"quantitative","title":null},"text":{"field":"txt"},"color":{"field":"c","type":"nominal","legend":null}}},
 {"data":{"name":"labels"},"transform":[{"filter":"datum.p=='c' && datum.k=='value'"}],"mark":{"type":"text","font":"DejaVu Serif","fontWeight":"bold","fontSize":58,"align":"center","baseline":"middle"},
  "encoding":{"x":{"field":"t","type":"quantitative","title":null},"y":{"field":"v","type":"quantitative","title":null},"text":{"field":"txt"},"color":{"field":"c","type":"nominal","legend":null}}},
 {"data":{"name":"labels"},"transform":[{"filter":"datum.p=='c' && (datum.k=='peak' || datum.k=='mode')"}],"mark":{"type":"text","font":"Liberation Serif","fontWeight":"bold","fontSize":58,"align":"center","baseline":"middle"},
  "encoding":{"x":{"field":"t","type":"quantitative","title":null},"y":{"field":"v","type":"quantitative","title":null},"text":{"field":"txt"},"color":{"field":"c","type":"nominal","legend":null}}},
 {"data":{"name":"labels"},"transform":[{"filter":"datum.p=='c' && datum.k=='tag'"}],"mark":{"type":"text","font":"Liberation Serif","fontWeight":"normal","fontSize":76,"align":"center","baseline":"middle"},
  "encoding":{"x":{"field":"t","type":"quantitative","title":null},"y":{"field":"v","type":"quantitative","title":null},"text":{"field":"txt"},"color":{"field":"c","type":"nominal","legend":null}}}
]},
{"width":1642,"height":1134,"layer":[
 {"data":{"values":[{"v":-5},{"v":5}]},"mark":{"type":"rule","color":"#2c2c2c","strokeWidth":5},
  "encoding":{"y":{"field":"v","type":"quantitative","title":null,"scale":{"domain":[-5.12,5.12],"nice":false,"zero":false},"axis":{"values":[-5,-4,-3,-2,-1,0,1,2,3,4,5]}}}},
 {"data":{"values":[{"v":0}]},"mark":{"type":"rule","color":"#5e5e5e","strokeWidth":4},
  "encoding":{"y":{"field":"v","type":"quantitative","title":null}}},
 {"data":{"values":[{"t":0}]},"mark":{"type":"rule","color":"#5e5e5e","strokeWidth":4},
  "encoding":{"x":{"field":"t","type":"quantitative","title":null,"scale":{"domain":[-6.66,6.66],"nice":false,"zero":false},"axis":{"values":[-6,-5,-4,-3,-2,-1,0,1,2,3,4,5,6]}}}},
 {"data":{"name":"traceD"},"transform":[{"filter":"datum.c=='gray'"}],"mark":{"type":"line","color":"#8a8a8a","strokeWidth":2.5,"strokeJoin":"round"},
  "encoding":{"x":{"field":"t","type":"quantitative","title":null},"y":{"field":"v","type":"quantitative","title":null},"detail":{"field":"p"},"order":{"field":"i","type":"quantitative"}}},
 {"data":{"name":"traceD"},"transform":[{"filter":"datum.c=='red'"}],"mark":{"type":"line","color":"#ff0000","strokeWidth":4.5,"strokeJoin":"round"},
  "encoding":{"x":{"field":"t","type":"quantitative","title":null},"y":{"field":"v","type":"quantitative","title":null},"detail":{"field":"p"},"order":{"field":"i","type":"quantitative"}}},
 {"data":{"name":"labels"},"transform":[{"filter":"datum.p=='d' && datum.k=='param'"}],"mark":{"type":"text","font":"Liberation Serif","fontWeight":"bold","fontSize":49,"align":"center","baseline":"middle"},
  "encoding":{"x":{"field":"t","type":"quantitative","title":null},"y":{"field":"v","type":"quantitative","title":null},"text":{"field":"txt"},"color":{"field":"c","type":"nominal","legend":null}}},
 {"data":{"name":"labels"},"transform":[{"filter":"datum.p=='d' && datum.k=='value'"}],"mark":{"type":"text","font":"DejaVu Serif","fontWeight":"bold","fontSize":58,"align":"center","baseline":"middle"},
  "encoding":{"x":{"field":"t","type":"quantitative","title":null},"y":{"field":"v","type":"quantitative","title":null},"text":{"field":"txt"},"color":{"field":"c","type":"nominal","legend":null}}},
 {"data":{"name":"labels"},"transform":[{"filter":"datum.p=='d' && (datum.k=='peak' || datum.k=='mode')"}],"mark":{"type":"text","font":"Liberation Serif","fontWeight":"bold","fontSize":58,"align":"center","baseline":"middle"},
  "encoding":{"x":{"field":"t","type":"quantitative","title":null},"y":{"field":"v","type":"quantitative","title":null},"text":{"field":"txt"},"color":{"field":"c","type":"nominal","legend":null}}},
 {"data":{"name":"labels"},"transform":[{"filter":"datum.p=='d' && datum.k=='tag'"}],"mark":{"type":"text","font":"Liberation Serif","fontWeight":"normal","fontSize":76,"align":"center","baseline":"middle"},
  "encoding":{"x":{"field":"t","type":"quantitative","title":null},"y":{"field":"v","type":"quantitative","title":null},"text":{"field":"txt"},"color":{"field":"c","type":"nominal","legend":null}}}
]}
]}
]
}
